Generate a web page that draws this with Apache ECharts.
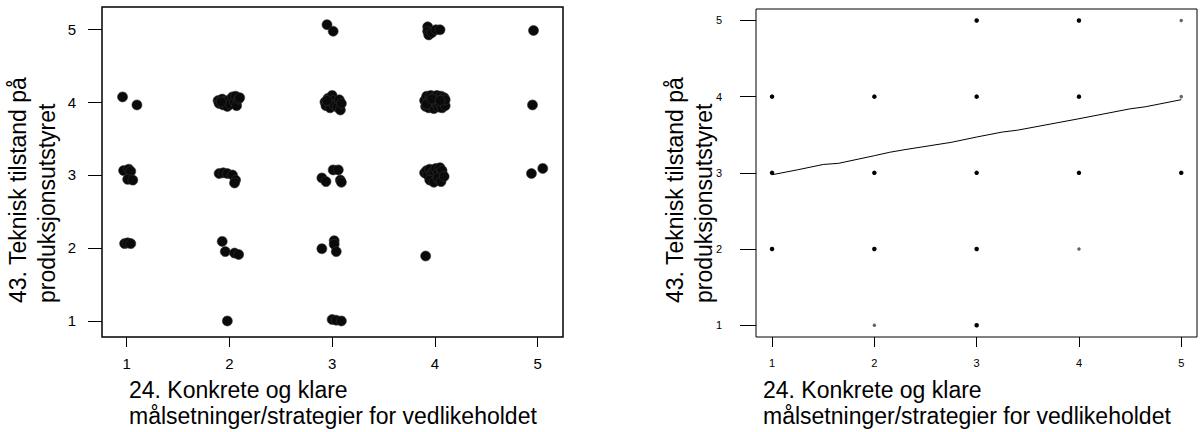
<!DOCTYPE html>
<html><head><meta charset="utf-8">
<script src="https://cdn.jsdelivr.net/npm/echarts@6/dist/echarts.min.js"></script>
<style>html,body{margin:0;padding:0;background:#fff}#c{width:1202px;height:432px}</style>
</head><body><div id="c"></div>
<script>
// ---- data ----
const tickValues = [1, 2, 3, 4, 5];
const xTitle = '24. Konkrete og klare\nmålsetninger/strategier for vedlikeholdet';
const yTitle = '43. Teknisk tilstand på\nproduksjonsutstyret';

// left panel: jittered observations
const jitterX = [
  2.95, 3.01,
  3.93, 3.93, 3.94, 3.97, 4.01, 4.05,
  4.96,
  0.96, 1.10,
  1.89, 1.90, 1.93, 1.94, 1.96, 1.98, 2.00, 2.01, 2.03, 2.05, 2.06, 2.07, 2.09, 2.10, 1.92,
  2.93, 2.94, 2.96, 2.98, 3.00, 3.01, 3.02, 3.05, 3.07, 3.08, 3.09, 2.95,
  3.90, 3.91, 3.92, 3.93, 3.94, 3.95, 3.96, 3.97, 3.98, 3.99, 4.00, 4.01, 4.02, 4.03, 4.04, 4.05, 4.06, 4.07, 4.08, 4.09, 4.10, 4.10, 3.92, 3.97, 4.05,
  4.95,
  0.97, 1.02, 1.04, 1.01, 1.06,
  1.90, 1.94, 1.98, 2.03, 2.06, 2.05,
  2.90, 2.94, 3.01, 3.06, 3.08, 3.09,
  3.90, 3.92, 3.93, 3.95, 3.97, 3.99, 4.01, 4.03, 4.05, 4.07, 3.95, 3.99, 4.03, 4.06, 4.09,
  4.94, 5.05,
  0.98, 1.01, 1.04,
  1.93, 1.96, 2.05, 2.09,
  2.90, 3.02, 3.02, 3.04,
  3.91,
  1.98,
  3.00, 3.04, 3.09
];
const jitterY = [
  5.06, 4.97,
  5.03, 4.97, 4.92, 4.95, 4.99, 4.99,
  4.98,
  4.07, 3.96,
  4.02, 3.98, 4.04, 3.96, 4.01, 3.94, 4.03, 3.97, 4.07, 4.00, 4.08, 3.95, 4.04, 4.06, 4.00,
  4.00, 3.95, 4.05, 3.92, 4.09, 4.02, 3.96, 3.93, 4.03, 3.89, 3.98, 4.02,
  4.02, 3.94, 4.08, 3.99, 3.92, 4.05, 4.09, 3.96, 4.02, 3.91, 4.07, 3.98, 4.09, 3.93, 4.04, 3.97, 4.08, 3.92, 4.01, 4.06, 3.95, 4.03, 3.97, 4.04, 4.02,
  3.96,
  3.06, 3.08, 3.05, 2.94, 2.93,
  3.02, 3.03, 3.02, 3.00, 2.93, 2.89,
  2.96, 2.91, 3.07, 3.07, 2.93, 2.90,
  3.03, 3.06, 3.00, 3.08, 3.02, 3.05, 3.09, 3.03, 3.10, 3.06, 2.93, 2.90, 2.96, 2.91, 2.98,
  3.02, 3.09,
  2.06, 2.07, 2.06,
  2.09, 1.95, 1.93, 1.91,
  1.99, 2.10, 2.05, 1.95,
  1.89,
  1.00,
  1.02, 1.01, 1.00
];

// right panel: distinct answer combinations and how many fall on each
const pointX = [3, 4, 5, 1, 2, 3, 4, 5, 1, 2, 3, 4, 5, 1, 2, 3, 4, 2, 3];
const pointY = [5, 5, 5, 4, 4, 4, 4, 4, 3, 3, 3, 3, 3, 2, 2, 2, 2, 1, 1];
const pointCount = [2, 6, 1, 2, 15, 12, 25, 1, 5, 6, 6, 15, 2, 3, 4, 4, 1, 1, 3];

// right panel: smoothed fit line
const fitX = [1, 1.25, 1.5, 1.65, 2, 2.15, 2.3, 2.75, 3, 3.25, 3.4, 4, 4.5, 4.65, 5];
const fitY = [2.975, 3.04, 3.11, 3.125, 3.225, 3.27, 3.305, 3.40, 3.47, 3.535, 3.56, 3.71, 3.84, 3.867, 3.96];

// ---- chart ----
const FONT = '"Liberation Sans", Arial, sans-serif';
const chart = echarts.init(document.getElementById('c'), null, {renderer: 'svg'});

function xAxisFor(gridIndex, min, max, labelSize, labelMargin) {
  return {
    type: 'value', gridIndex, min, max,
    axisLine: {show: false},
    splitLine: {show: false},
    axisTick: {show: true, inside: false, length: 10, customValues: tickValues, lineStyle: {color: '#000', width: 1}},
    axisLabel: {customValues: tickValues, color: '#000', fontFamily: FONT, fontSize: labelSize, margin: labelMargin}
  };
}
function yAxisFor(gridIndex, min, max, labelSize, labelMargin, tickLen) {
  return {
    type: 'value', gridIndex, min, max,
    axisLine: {show: false},
    splitLine: {show: false},
    axisTick: {show: true, inside: false, length: tickLen, customValues: tickValues, lineStyle: {color: '#000', width: 1}},
    axisLabel: {customValues: tickValues, color: '#000', fontFamily: FONT, fontSize: labelSize, margin: labelMargin}
  };
}
function yTitleText(cx) {
  return {
    type: 'text', x: cx, y: 303, rotation: Math.PI / 2, silent: true,
    style: {text: yTitle, fill: '#000', fontFamily: FONT, fontSize: 23, lineHeight: 29,
            align: 'left', verticalAlign: 'middle', textAlign: 'left', textVerticalAlign: 'middle'}
  };
}
const xTitleStyle = {fontFamily: FONT, fontSize: 23, fontWeight: 'normal', color: '#000', lineHeight: 26};

const jitterData = jitterX.map((x, i) => [x, jitterY[i]]);
const pointData = pointX.map((x, i) => ({
  value: [x, pointY[i]],
  itemStyle: {color: pointCount[i] > 1 ? '#000' : '#666', opacity: 1},
  symbolSize: pointCount[i] > 1 ? 4.5 : 3.5
}));
const fitData = fitX.map((x, i) => [x, fitY[i]]);

chart.setOption({
  animation: false,
  backgroundColor: '#fff',
  title: [
    {text: xTitle, left: 129, top: 377, padding: 0, textStyle: xTitleStyle},
    {text: xTitle, left: 763, top: 377, padding: 0, textStyle: xTitleStyle}
  ],
  graphic: [yTitleText(32.5), yTitleText(689)],
  grid: [
    {left: 102, top: 7, width: 461, height: 330, show: true, borderColor: '#000', borderWidth: 1.5, backgroundColor: 'transparent'},
    {left: 756, top: 9, width: 441, height: 328, show: true, borderColor: '#000', borderWidth: 1, backgroundColor: 'transparent'}
  ],
  xAxis: [
    xAxisFor(0, 0.760, 5.247, 15, 19),
    xAxisFor(1, 0.843, 5.154, 11, 20)
  ],
  yAxis: [
    yAxisFor(0, 0.780, 5.302, 15, 26, 14),
    yAxisFor(1, 0.846, 5.150, 11, 34, 16)
  ],
  series: [
    {type: 'scatter', xAxisIndex: 0, yAxisIndex: 0, data: jitterData, symbol: 'circle', symbolSize: 10,
     itemStyle: {color: '#0a0a0a', opacity: 1, borderColor: '#333', borderWidth: 0.6}},
    {type: 'scatter', xAxisIndex: 1, yAxisIndex: 1, data: pointData, symbol: 'circle'},
    {type: 'line', xAxisIndex: 1, yAxisIndex: 1, data: fitData, showSymbol: false, symbol: 'none',
     lineStyle: {color: '#000', width: 1}, z: 3}
  ]
});
</script>
</body></html>
